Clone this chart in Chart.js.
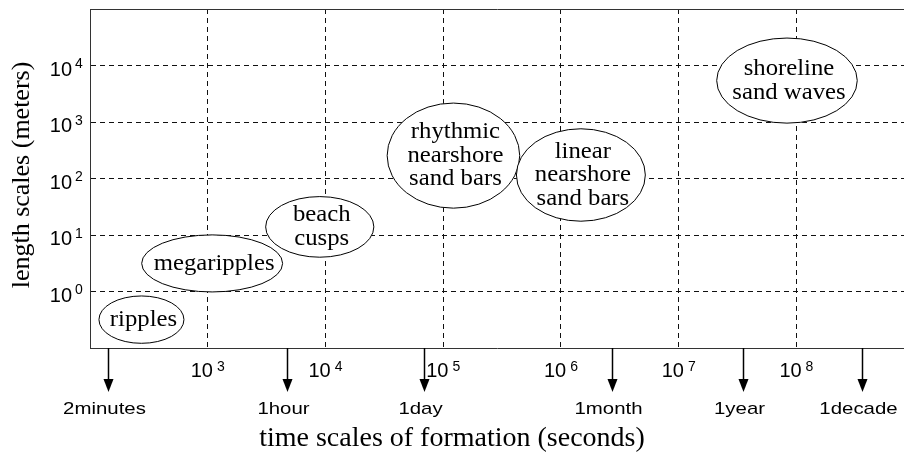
<!DOCTYPE html>
<html><head><meta charset="utf-8">
<script src="https://cdn.jsdelivr.net/npm/chart.js@4"></script>
<style>html,body{margin:0;padding:0;background:#fff}canvas{display:block}
.pre{position:absolute;left:-1000px;top:0}</style>
</head><body>
<div class="pre" style="font-family:'Liberation Serif'">a</div>
<div class="pre" style="font-family:'Liberation Sans'">a</div>
<canvas id="c" width="904" height="458"></canvas>
<script>
// ---- axis ranges and tick labels (powers of ten) ----
const xMinExp = 2, xMaxExp = 8.914;
const yMinExp = -1, yMaxExp = 5;
const xTickExp = [3, 4, 5, 6, 7, 8];
const yTickExp = [0, 1, 2, 3, 4];

// ---- phenomena (ellipse extents as powers of ten) ----
const ellipseLabels = [['ripples'], ['megaripples'], ['beach', 'cusps'], ['rhythmic', 'nearshore', 'sand bars'], ['linear', 'nearshore', 'sand bars'], ['shoreline', 'sand waves']];
const ellipseXLo = [2.076, 2.439, 3.492, 4.524, 5.622, 7.323];
const ellipseXHi = [2.798, 3.636, 4.411, 5.650, 6.717, 8.517];
const ellipseYLo = [-0.917, -0.008, 0.607, 1.475, 1.244, 2.980];
const ellipseYHi = [-0.079, 1.002, 1.680, 3.335, 2.880, 4.486];

// ---- time markers below the axis ----
const markerLabels = ['2minutes', '1hour', '1day', '1month', '1year', '1decade'];
const markerExp = [2.153, 3.674, 4.836, 6.437, 7.548, 8.555];

const xTitle = 'time scales of formation (seconds)';
const yTitle = 'length scales (meters)';

const SANS = '"Liberation Sans", Arial, Helvetica, sans-serif';
const SERIF = '"Liberation Serif", "Times New Roman", Times, serif';

function stretchedText(ctx, text, x, y, sx, align) {
  ctx.save();
  ctx.translate(x, y);
  ctx.scale(sx, 1);
  ctx.textAlign = align || 'center';
  ctx.fillText(text, 0, 0);
  ctx.restore();
}

const overlay = {
  id: 'overlay',
  afterDatasetsDraw(chart) {
    const {ctx, scales: {x, y}} = chart;
    ellipseLabels.forEach((lines, i) => {
      const x1 = x.getPixelForValue(Math.pow(10, ellipseXLo[i]));
      const x2 = x.getPixelForValue(Math.pow(10, ellipseXHi[i]));
      const y1 = y.getPixelForValue(Math.pow(10, ellipseYHi[i]));
      const y2 = y.getPixelForValue(Math.pow(10, ellipseYLo[i]));
      const cx = (x1 + x2) / 2, cy = (y1 + y2) / 2;
      ctx.save();
      ctx.beginPath();
      ctx.ellipse(cx, cy, (x2 - x1) / 2, (y2 - y1) / 2, 0, 0, Math.PI * 2);
      ctx.fillStyle = '#fff';
      ctx.fill();
      ctx.lineWidth = 1;
      ctx.strokeStyle = '#000';
      ctx.stroke();
      ctx.fillStyle = '#000';
      ctx.font = '24px ' + SERIF;
      ctx.textBaseline = 'middle';
      const lh = 23.5;
      const y0 = cy - (lines.length - 1) * lh / 2;
      lines.forEach((t, k) => stretchedText(ctx, t, cx + 2, y0 + k * lh, 1.03));
      ctx.restore();
    });
  },
  afterDraw(chart) {
    const {ctx, chartArea, scales: {x, y}} = chart;
    ctx.save();
    ctx.fillStyle = '#000';
    ctx.textBaseline = 'alphabetic';
    // x tick labels 10^n
    xTickExp.forEach(e => {
      const px = x.getPixelForValue(Math.pow(10, e));
      ctx.font = '20px ' + SANS;
      const w1 = ctx.measureText('10').width;
      ctx.font = '14px ' + SANS;
      const w2 = ctx.measureText(String(e)).width;
      const start = px - (w1 + 4 + w2) / 2;
      ctx.textAlign = 'left';
      ctx.font = '20px ' + SANS;
      ctx.fillText('10', start, chartArea.bottom + 29);
      ctx.font = '14px ' + SANS;
      ctx.fillText(String(e), start + w1 + 4, chartArea.bottom + 22.5);
    });
    // y tick labels 10^n
    yTickExp.forEach(e => {
      const py = y.getPixelForValue(Math.pow(10, e));
      ctx.font = '20px ' + SANS;
      ctx.textAlign = 'right';
      ctx.fillText('10', chartArea.left - 18, py + 10);
      ctx.font = '14px ' + SANS;
      ctx.textAlign = 'left';
      ctx.fillText(String(e), chartArea.left - 15, py + 2.5);
    });
    // arrows
    markerExp.forEach((e, i) => {
      const px = Math.round(x.getPixelForValue(Math.pow(10, e))) + 0.5;
      const top = chartArea.bottom;
      ctx.strokeStyle = '#000';
      ctx.lineWidth = 1.5;
      ctx.beginPath();
      ctx.moveTo(px, top);
      ctx.lineTo(px, top + 32);
      ctx.stroke();
      ctx.beginPath();
      ctx.moveTo(px - 5, top + 31);
      ctx.lineTo(px + 5, top + 31);
      ctx.lineTo(px, top + 44);
      ctx.closePath();
      ctx.fill();
      ctx.font = '17px ' + SANS;
      stretchedText(ctx, markerLabels[i], px - 4, top + 66, 1.2, 'center');
    });
    // axis titles
    ctx.font = '28px ' + SERIF;
    stretchedText(ctx, xTitle, 452, 446, 1.0, 'center');
    ctx.save();
    ctx.translate(22.5, 175);
    ctx.rotate(-Math.PI / 2);
    ctx.font = '26px ' + SERIF;
    ctx.textAlign = 'center';
    ctx.textBaseline = 'middle';
    ctx.fillText(yTitle, 0, 0);
    ctx.restore();
    ctx.restore();
  }
};

const centers = ellipseLabels.map((_, i) => ({
  x: Math.pow(10, (ellipseXLo[i] + ellipseXHi[i]) / 2),
  y: Math.pow(10, (ellipseYLo[i] + ellipseYHi[i]) / 2)
}));

function build() {
  new Chart(document.getElementById('c'), {
    type: 'scatter',
    data: { datasets: [{ data: centers, pointRadius: 0, pointHoverRadius: 0 }] },
    options: {
      responsive: false,
      animation: false,
      devicePixelRatio: 1,
      events: [],
      layout: { padding: { left: 90, top: 9, right: 0, bottom: 110 } },
      plugins: { legend: { display: false }, tooltip: { enabled: false } },
      scales: {
        x: {
          type: 'logarithmic', position: 'bottom',
          min: Math.pow(10, xMinExp), max: Math.pow(10, xMaxExp),
          afterBuildTicks: s => { s.ticks = xTickExp.map(e => ({ value: Math.pow(10, e) })); },
          ticks: { display: false },
          grid: { color: '#111', lineWidth: 1, drawTicks: false },
          border: { display: true, color: '#333', width: 1, dash: [5, 4] }
        },
        y: {
          type: 'logarithmic', position: 'left',
          min: Math.pow(10, yMinExp), max: Math.pow(10, yMaxExp),
          afterBuildTicks: s => { s.ticks = yTickExp.map(e => ({ value: Math.pow(10, e) })); },
          ticks: { display: false },
          grid: { color: '#111', lineWidth: 1, drawTicks: false },
          border: { display: true, color: '#333', width: 1, dash: [5, 4] }
        },
        top: {
          type: 'linear', axis: 'x', position: 'top',
          ticks: { display: false },
          grid: { display: false, drawTicks: false },
          border: { display: true, color: '#333', width: 1 }
        }
      }
    },
    plugins: [overlay]
  });
}

Promise.all([
  document.fonts.load('24px "Liberation Serif"'),
  document.fonts.load('20px "Liberation Sans"')
]).then(build, build);
</script>
</body></html>
